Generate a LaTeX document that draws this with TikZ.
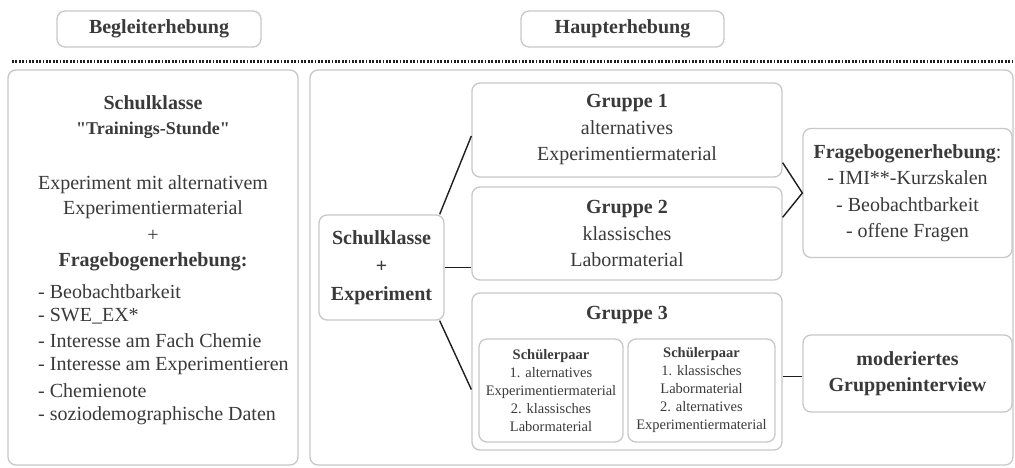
\documentclass[tikz,border=0pt]{standalone}
\usepackage{fontspec}
\setmainfont{Liberation Serif}[Ligatures=TeXOff]
\usetikzlibrary{calc}
\definecolor{boxgray}{RGB}{200,200,200}
\definecolor{textgray}{RGB}{58,58,58}
\definecolor{linegray}{RGB}{30,30,30}
\tikzset{
  box/.style={draw=boxgray, line width=1.3pt, rounded corners=8pt, fill=white, inner sep=0pt, text=textgray, align=center},
  conn/.style={draw=linegray, line width=1.4pt},
  dotline/.style={draw=linegray, line width=3pt, dash pattern=on 1.8pt off 1.6pt},
  big/.style={font=\fontsize{20}{26.5}\selectfont},
  bigb/.style={font=\bfseries\fontsize{20}{26.5}\selectfont},
  small/.style={font=\fontsize{14.5}{18}\selectfont},
  txt/.style={inner sep=0pt, text=textgray, align=center},
}
\begin{document}
\begin{tikzpicture}[x=1pt,y=-1pt]
\useasboundingbox (0,0) rectangle (1015,468);
% header
\node[box, bigb, minimum width=204pt, minimum height=36pt] (beg) at (159,29) {Begleiterhebung};
\node[box, bigb, minimum width=203pt, minimum height=36pt] (haupt) at (622.5,29) {Haupterhebung};
\coordinate (dl) at (12,62);
\coordinate (dr) at (1015,62);
\draw[dotline] (dl) -- (dr);
% left column
\node[box, minimum width=290pt, minimum height=395pt] (lbox) at (153,267.5) {};
\node[txt, bigb] (lt1) at (153,103) {Schulklasse};
\node[txt, font=\bfseries\fontsize{18}{22}\selectfont] (lt2) at (153,130) {"Trainings-Stunde"};
\node[txt, big] (lt3) at (153,185) {Experiment mit alternativem};
\node[txt, big] (lt4) at (153,210) {Experimentiermaterial};
\node[txt, big] (lt5) at (153,236) {+};
\node[txt, bigb] (lt6) at (153,262) {Fragebogenerhebung:};
\node[txt, big, anchor=west] (li1) at (38,292) {- Beobachtbarkeit};
\node[txt, big, anchor=west] (li2) at (38,316) {- SWE\_EX*};
\node[txt, big, anchor=west] (li3) at (38,341) {- Interesse am Fach Chemie};
\node[txt, big, anchor=west] (li4) at (38,366) {- Interesse am Experimentieren};
\node[txt, big, anchor=west] (li5) at (38,391) {- Chemienote};
\node[txt, big, anchor=west] (li6) at (38,416) {- soziodemographische Daten};
% right column
\node[box, minimum width=703pt, minimum height=395pt] (rbox) at (661.5,267.5) {};
\node[box, font=\bfseries\fontsize{20}{28}\selectfont, minimum width=125pt, minimum height=105pt] (sk) at (381.5,267.5) {Schulklasse\\+\\Experiment};
\node[box, big, minimum width=310pt, minimum height=94pt] (g1) at (627,130) {\textbf{Gruppe 1}\\alternatives\\Experimentiermaterial};
\node[box, big, minimum width=310pt, minimum height=93pt] (g2) at (627,233.5) {\textbf{Gruppe 2}\\klassisches\\Labormaterial};
\node[box, minimum width=310pt, minimum height=157pt] (g3) at (627,371.5) {};
\node[txt, bigb] (g3t) at (627,315) {Gruppe 3};
\node[box, small, minimum width=144pt, minimum height=103pt] (sp1) at (551,390.5) {\textbf{Schülerpaar}\\1. alternatives\\Experimentiermaterial\\2. klassisches\\Labormaterial};
\node[box, small, minimum width=147pt, minimum height=103pt] (sp2) at (701.5,390.5) {\textbf{Schülerpaar}\\1. klassisches\\Labormaterial\\2. alternatives\\Experimentiermaterial};
\node[box, big, minimum width=209pt, minimum height=129pt] (fr) at (907.5,193) {\textbf{Fragebogenerhebung}:\\- IMI**-Kurzskalen\\- Beobachtbarkeit\\- offene Fragen};
\node[box, bigb, minimum width=209pt, minimum height=77pt] (mod) at (907.5,373.5) {moderiertes\\Gruppeninterview};
% connectors
\draw[conn] ([xshift=-5pt]sk.north east) -- ([yshift=-6pt]g1.west);
\draw[conn] (sk.east) -- (sk.east -| g2.west);
\draw[conn] ([xshift=-5pt]sk.south east) -- ([yshift=-18pt]g3.west);
\draw[conn] ([yshift=15pt]g1.south east) -- (fr.west) -- ([yshift=-31pt]g2.north east);
\draw[conn] ([yshift=-5pt]g3.east) -- ([yshift=-5pt]g3.east -| mod.west);
\end{tikzpicture}
\end{document}
